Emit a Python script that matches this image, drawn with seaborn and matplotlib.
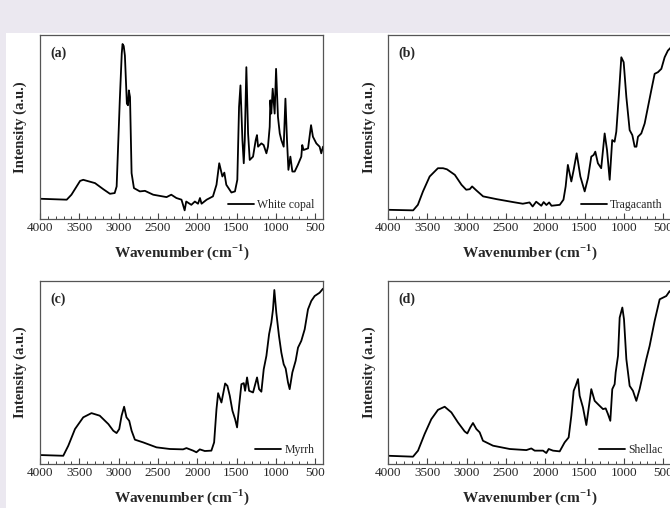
import matplotlib
matplotlib.use('Agg')
import matplotlib.pyplot as plt
import seaborn as sns
from matplotlib.patches import Rectangle
from matplotlib.ticker import MultipleLocator

# FTIR spectra (wavenumber in cm-1, intensity in a.u. scaled 0-100)
copal_wn = [4000, 3660, 3600, 3490, 3450, 3300, 3195, 3110, 3050, 3025, 2985, 2960, 2950, 2935, 2920, 2895,
            2880, 2870, 2855, 2835, 2805, 2730, 2665, 2560, 2390, 2330, 2265, 2200, 2160, 2140,
            2075, 2030, 1990, 1965, 1945, 1880, 1800, 1755, 1720, 1700, 1680, 1655, 1630, 1565,
            1520, 1490, 1468, 1450, 1425, 1408, 1395, 1375, 1353, 1332, 1290, 1256, 1240, 1226,
            1184, 1155, 1120, 1100, 1078, 1070, 1058, 1040, 1015, 997, 973, 950, 930, 900, 878,
            858, 840, 815, 790, 760, 720, 676, 664, 647, 590, 552, 528, 485, 443, 422, 400]
copal_int = [11.0, 10.5, 13.2, 20.7, 21.3, 19.5, 16.2, 13.7, 14.1, 17.7, 64.5, 90.0, 95.1, 94.0, 88.8, 62.7,
             61.8, 69.9, 66.3, 24.9, 16.8, 15.0, 15.3, 13.2, 11.9, 13.2, 11.4, 10.5, 4.7, 9.5,
             7.7, 9.5, 8.3, 11.4, 8.3, 10.5, 12.3, 18.6, 30.3, 26.7, 23.1, 25.2, 18.6, 14.4,
             15.0, 21.3, 60.9, 72.6, 42.9, 30.3, 42.9, 82.5, 46.5, 32.1, 33.9, 42.9, 45.6, 39.3,
             41.1, 40.2, 35.7, 39.3, 50.1, 64.5, 57.3, 70.8, 57.3, 81.6, 55.5, 46.5, 42.9, 39.3, 65.4,
             42.9, 26.7, 33.9, 25.8, 25.8, 29.4, 33.9, 40.2, 37.5, 38.4, 51.0, 44.7, 41.1, 39.3, 35.7, 39.3]

trag_wn = [4000, 3680, 3620, 3555, 3470, 3365, 3300, 3250, 3150, 3065, 3005, 2960, 2930, 2875,
           2790, 2620, 2410, 2285, 2200, 2160, 2115, 2050, 2020, 1985, 1950, 1920, 1815, 1768,
           1740, 1712, 1668, 1638, 1600, 1553, 1498, 1456, 1414, 1384, 1363, 1330, 1288, 1244,
           1214, 1180, 1148, 1118, 1096, 1062, 1032, 1002, 968, 926, 892, 862, 840, 820, 778,
           735, 693, 651, 608, 566, 523, 481, 440, 400]
trag_int = [5.0, 4.7, 7.7, 15.0, 23.1, 27.6, 27.6, 27.0, 24.0, 18.6, 15.9, 16.2, 17.7, 15.5,
            12.3, 10.8, 9.2, 8.3, 9.0, 6.8, 9.4, 7.2, 9.2, 7.6, 9.0, 7.2, 7.7, 10.5,
            17.7, 29.4, 20.4, 26.7, 35.7, 23.1, 15.0, 22.2, 33.9, 34.8, 36.6, 30.3, 27.6, 46.5,
            37.5, 21.3, 42.9, 42.0, 47.4, 68.1, 87.9, 85.2, 66.3, 48.3, 45.6, 39.3, 39.3, 44.7, 46.5,
            51.9, 60.9, 69.9, 78.9, 79.8, 81.6, 87.9, 91.5, 93.3]

myrrh_wn = [4000, 3704, 3640, 3555, 3450, 3345, 3240, 3130, 3068, 3026, 2992, 2962, 2930, 2900,
            2865, 2835, 2793, 2687, 2518, 2348, 2180, 2137, 2052, 2010, 1967, 1904, 1820, 1785,
            1755, 1734, 1692, 1671, 1645, 1616, 1586, 1552, 1518, 1493, 1467, 1438, 1408, 1391,
            1366, 1340, 1290, 1239, 1213, 1184, 1154, 1120, 1086, 1057, 1036, 1019, 994, 960,
            930, 900, 875, 845, 824, 790, 748, 718, 676, 633, 591, 549, 506, 443, 400]
myrrh_int = [4.9, 4.5, 10.0, 19.1, 25.5, 27.8, 26.4, 21.8, 18.2, 16.9, 19.1, 26.4, 31.3, 25.5,
             23.6, 18.2, 13.3, 11.8, 9.1, 8.2, 8.0, 8.7, 7.3, 6.4, 8.0, 7.1, 7.3, 11.8,
             30.0, 38.7, 33.6, 38.2, 44.0, 42.7, 37.3, 29.1, 24.5, 20.0, 31.8, 43.6, 44.2, 40.0,
             47.3, 40.0, 39.1, 47.3, 40.9, 39.5, 51.8, 59.1, 70.9, 77.3, 84.5, 95.1, 82.7, 70.0,
             60.9, 54.5, 52.2, 44.5, 40.9, 50.0, 56.4, 63.6, 67.3, 73.6, 84.5, 89.1, 91.8, 93.6, 95.8]

shellac_wn = [4000, 3682, 3618, 3534, 3449, 3364, 3279, 3194, 3110, 3025, 2991, 2953, 2919, 2876,
              2834, 2792, 2664, 2452, 2240, 2177, 2134, 2028, 1986, 1956, 1901, 1816, 1753, 1702,
              1668, 1638, 1613, 1583, 1562, 1520, 1477, 1443, 1414, 1371, 1308, 1265, 1231, 1202,
              1172, 1147, 1117, 1104, 1074, 1053, 1019, 998, 968, 926, 884, 841, 799, 757, 714,
              672, 608, 544, 502, 460, 417, 400]
shellac_int = [4.5, 4.0, 7.3, 16.4, 24.5, 29.6, 31.3, 28.2, 22.7, 17.8, 16.7, 20.0, 22.4, 19.1,
               17.3, 12.7, 10.0, 8.2, 7.6, 8.5, 7.3, 7.3, 6.0, 8.2, 7.3, 6.9, 11.8, 14.5,
               26.4, 40.0, 42.7, 46.4, 37.3, 30.9, 21.3, 31.8, 40.9, 34.5, 31.8, 30.0, 30.4, 27.3,
               23.6, 40.9, 43.6, 50.0, 59.1, 80.0, 85.5, 79.1, 57.3, 42.7, 40.0, 34.5, 40.9, 49.1, 57.3,
               64.5, 78.2, 90.0, 90.9, 91.8, 94.5, 93.6]

panel_tags = ['(a)', '(b)', '(c)', '(d)']
sample_names = ['White copal', 'Tragacanth', 'Myrrh', 'Shellac']
spectra = [(copal_wn, copal_int), (trag_wn, trag_int), (myrrh_wn, myrrh_int), (shellac_wn, shellac_int)]

sns.set_style('ticks')
plt.rcParams['font.family'] = ['Liberation Serif', 'DejaVu Serif']
plt.rcParams['mathtext.fontset'] = 'custom'
plt.rcParams['mathtext.rm'] = 'Liberation Serif'
plt.rcParams['mathtext.bf'] = 'Liberation Serif:bold'

fig = plt.figure(figsize=(6.7, 5.08), dpi=100)
fig.patch.set_facecolor('white')

# lavender page background strips (screenshot margins)
bg = '#ebe8f0'
fig.patches.append(Rectangle((0, 475 / 508), 1, 33 / 508, transform=fig.transFigure,
                             facecolor=bg, edgecolor='none', zorder=0))
fig.patches.append(Rectangle((0, 0), 6 / 670, 475 / 508, transform=fig.transFigure,
                             facecolor=bg, edgecolor='none', zorder=0))

positions = [[40 / 670, 289 / 508, 283 / 670, 184 / 508],
             [388 / 670, 289 / 508, 283 / 670, 184 / 508],
             [40 / 670, 44 / 508, 283 / 670, 183 / 508],
             [388 / 670, 44 / 508, 283 / 670, 183 / 508]]

for pos, (wn, inten), tag, name in zip(positions, spectra, panel_tags, sample_names):
    ax = fig.add_axes(pos)
    sns.lineplot(x=wn, y=inten, ax=ax, color='black', linewidth=1.3,
                 sort=False, estimator=None, label=name)
    ax.set_xlim(4000, 400)
    ax.set_ylim(0, 100)
    ax.set_yticks([])
    ax.xaxis.set_major_locator(MultipleLocator(500))
    ax.xaxis.set_minor_locator(MultipleLocator(100))
    ax.tick_params(axis='x', which='major', direction='in', length=4, width=0.8,
                   color='#444444', labelsize=9.5, pad=2.5)
    ax.tick_params(axis='x', which='minor', direction='in', length=2, width=0.7, color='#444444')
    for sp in ax.spines.values():
        sp.set_visible(True)
        sp.set_color('#555555')
        sp.set_linewidth(0.9)
    ax.set_xlabel(r'Wavenumber (cm$^{\mathbf{-1}}$)', fontsize=11, fontweight='bold', labelpad=6)
    ax.set_ylabel('Intensity (a.u.)', fontsize=10.5, fontweight='bold', labelpad=9)
    ax.text(0.035, 0.9, tag, transform=ax.transAxes, fontsize=10, fontweight='bold', va='center')
    ax.legend(loc='lower right', frameon=False, fontsize=8.5, handlelength=2.2,
              handletextpad=0.3, borderaxespad=0.3)

fig.savefig('out.png', dpi=100)
